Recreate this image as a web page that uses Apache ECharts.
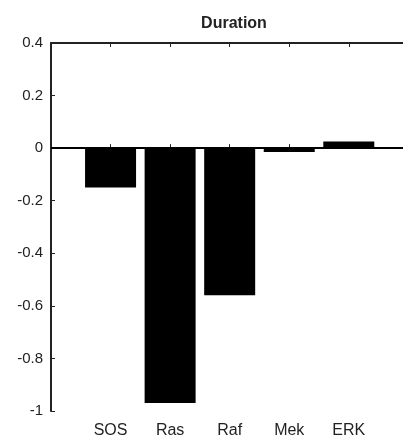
<!DOCTYPE html>
<html>
<head>
<meta charset="utf-8">
<script src="https://cdn.jsdelivr.net/npm/echarts@6/dist/echarts.min.js"></script>
<style>
  html, body { margin: 0; padding: 0; background: #fff; }
  #chart { width: 403px; height: 439px; }
</style>
</head>
<body>
<div id="chart"></div>
<script>
// Proteins along the signalling cascade and their effect on duration
const categories = ['SOS', 'Ras', 'Raf', 'Mek', 'ERK'];
const durationValues = [-0.15, -0.97, -0.56, -0.015, 0.025];
const yTicks = [-1, -0.8, -0.6, -0.4, -0.2, 0, 0.2, 0.4];

const barData = categories.map((name, i) => [i + 1, durationValues[i]]);
const ink = '#222';
const font = 'Liberation Sans, Arial, sans-serif';

const chart = echarts.init(document.getElementById('chart'));
chart.setOption({
  animation: false,
  title: {
    text: 'Duration',
    left: 229, top: 11,
    textAlign: 'center',
    textStyle: { fontFamily: font, fontSize: 16, fontWeight: 'bold', color: ink }
  },
  grid: { left: 51, right: 0, top: 43, bottom: 28 },
  xAxis: [
    {
      type: 'value', min: 0, max: 5.91, interval: 1, position: 'bottom',
      axisLine: { lineStyle: { color: ink, width: 2 } },
      axisTick: { inside: true, length: 4, lineStyle: { color: ink } },
      splitLine: { show: false },
      axisLabel: {
        margin: 12, color: ink, fontFamily: font, fontSize: 16,
        showMaxLabel: false,
        formatter: v => categories[v - 1] || ''
      }
    },
    {
      type: 'value', min: 0, max: 5.91, interval: 1, position: 'top',
      axisLine: { show: true, lineStyle: { color: ink, width: 2 } },
      axisTick: { show: true, inside: true, length: 4, lineStyle: { color: ink } },
      splitLine: { show: false },
      axisLabel: { show: false }
    }
  ],
  yAxis: {
    type: 'value', min: -1, max: 0.4, interval: 0.2,
    axisLine: { show: true, onZero: false, lineStyle: { color: ink, width: 2 } },
    axisTick: { show: true, inside: true, length: 4, lineStyle: { color: ink } },
    splitLine: { show: false },
    axisLabel: {
      margin: 8, color: ink, fontFamily: font, fontSize: 15,
      formatter: v => {
        const t = yTicks.find(k => Math.abs(k - v) < 1e-9);
        return String(t !== undefined ? t : Math.round(v * 10) / 10);
      }
    }
  },
  series: [{
    type: 'bar',
    data: barData,
    barWidth: 51,
    itemStyle: { color: '#000' },
    markLine: {
      silent: true,
      symbol: 'none',
      label: { show: false },
      lineStyle: { color: '#000', width: 2, type: 'solid' },
      data: [{ yAxis: 0 }]
    }
  }]
});
</script>
</body>
</html>
